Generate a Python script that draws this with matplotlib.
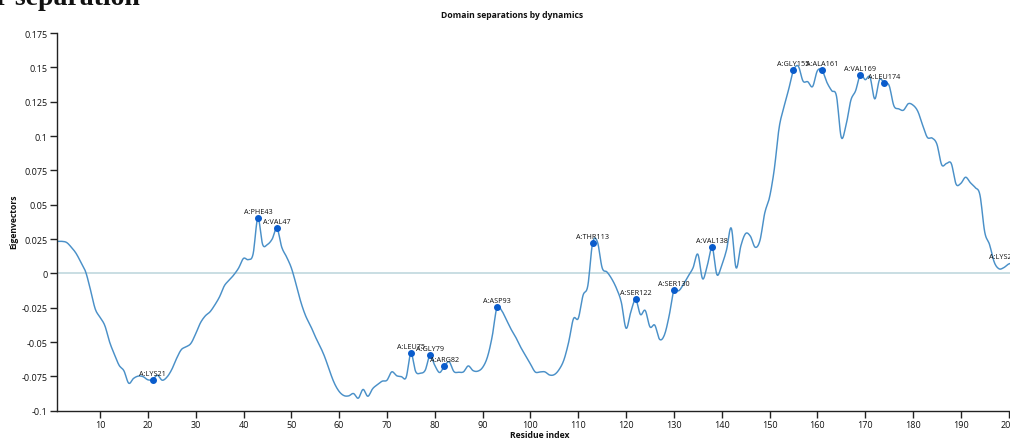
import matplotlib
matplotlib.use("Agg")
import matplotlib.pyplot as plt
import numpy as np

# ---- data ----
residues = list(range(1, 204))
eigvals = [
    0.0233, 0.0233, 0.0225, 0.0190, 0.0145, 0.0080, 0.0010, -0.0120, -0.0260, -0.0320,
    -0.0380, -0.0500, -0.0590, -0.0670, -0.0710, -0.0800, -0.0765, -0.0748, -0.0752, -0.0775,
    -0.0773, -0.0742, -0.0778, -0.0755, -0.0700, -0.0620, -0.0555, -0.0535, -0.0510, -0.0440,
    -0.0360, -0.0310, -0.0280, -0.0230, -0.0170, -0.0090, -0.0050, -0.0010, 0.0040, 0.0109,
    0.0100, 0.0140, 0.0403, 0.0210, 0.0210, 0.0250, 0.0328, 0.0190, 0.0120, 0.0040,
    -0.0080, -0.0210, -0.0310, -0.0380, -0.0460, -0.0530, -0.0610, -0.0710, -0.0800, -0.0860,
    -0.0890, -0.0892, -0.0875, -0.0909, -0.0845, -0.0895, -0.0840, -0.0810, -0.0785, -0.0778,
    -0.0717, -0.0745, -0.0752, -0.0758, -0.0583, -0.0715, -0.0727, -0.0705, -0.0598, -0.0670,
    -0.0722, -0.0676, -0.0644, -0.0715, -0.0720, -0.0717, -0.0674, -0.0708, -0.0712, -0.0685,
    -0.0610, -0.0460, -0.0248, -0.0272, -0.0340, -0.0410, -0.0470, -0.0540, -0.0600, -0.0660,
    -0.0718, -0.0718, -0.0717, -0.0740, -0.0737, -0.0700, -0.0630, -0.0500, -0.0330, -0.0328,
    -0.0160, -0.0090, 0.0221, 0.0230, 0.0040, 0.0010, -0.0040, -0.0110, -0.0210, -0.0400,
    -0.0280, -0.0190, -0.0300, -0.0270, -0.0390, -0.0377, -0.0480, -0.0450, -0.0310, -0.0120,
    -0.0127, -0.0080, -0.0020, 0.0040, 0.0140, -0.0040, 0.0060, 0.0190, -0.0010, 0.0060,
    0.0170, 0.0330, 0.0040, 0.0200, 0.0290, 0.0270, 0.0190, 0.0240, 0.0440, 0.0554,
    0.0760, 0.1060, 0.1210, 0.1340, 0.1477, 0.1509, 0.1400, 0.1395, 0.1360, 0.1475,
    0.1477, 0.1390, 0.1330, 0.1290, 0.0990, 0.1080, 0.1260, 0.1330, 0.1446, 0.1410,
    0.1429, 0.1270, 0.1410, 0.1385, 0.1368, 0.1220, 0.1198, 0.1188, 0.1235, 0.1225,
    0.1180, 0.1080, 0.0990, 0.0985, 0.0940, 0.0790, 0.0800, 0.0800, 0.0650, 0.0655,
    0.0700, 0.0660, 0.0625, 0.0570, 0.0300, 0.0210, 0.0080, 0.0033, 0.0042, 0.0068,
    0.0075, 0.0077, 0.0077,
]
marked_labels = ["A:LYS21", "A:PHE43", "A:VAL47", "A:LEU75", "A:GLY79", "A:ARG82",
                 "A:ASP93", "A:THR113", "A:SER122", "A:SER130", "A:VAL138",
                 "A:GLY155", "A:ALA161", "A:VAL169", "A:LEU174", "A:LYS203"]
marked_residues = [21, 43, 47, 75, 79, 82, 93, 113, 122, 130, 138, 155, 161, 169, 174, 203]
y_ticks = [-0.1, -0.075, -0.05, -0.025, 0, 0.025, 0.05, 0.075, 0.1, 0.125, 0.15, 0.175]
y_ticklabels = ["-0.1", "-0.075", "-0.05", "-0.025", "0", "0.025", "0.05", "0.075",
                "0.1", "0.125", "0.15", "0.175"]
x_ticks = list(range(10, 201, 10))


def smooth_path(xs, ys, n=8):
    """Catmull-Rom rendering of the polyline (curve drawn through every data point)."""
    xs = np.asarray(xs, float)
    ys = np.asarray(ys, float)
    px = np.concatenate([[xs[0]], xs, [xs[-1]]])
    py = np.concatenate([[ys[0]], ys, [ys[-1]]])
    out_x, out_y = [], []
    t = np.linspace(0, 1, n, endpoint=False)
    for i in range(1, len(px) - 2):
        for arr, out in ((px, out_x), (py, out_y)):
            p0, p1, p2, p3 = arr[i - 1], arr[i], arr[i + 1], arr[i + 2]
            out.extend(0.5 * ((2 * p1) + (-p0 + p2) * t + (2 * p0 - 5 * p1 + 4 * p2 - p3) * t ** 2
                              + (-p0 + 3 * p1 - 3 * p2 + p3) * t ** 3))
    out_x.append(xs[-1])
    out_y.append(ys[-1])
    return out_x, out_y


# ---- figure ----
W, H = 1010, 439
fig = plt.figure(figsize=(W / 100, H / 100), dpi=100)
plt.rcParams['font.family'] = ['Open Sans', 'DejaVu Sans']

left_px, right_px, top_px, bot_px = 57, 1023, 34, 411.7
ax = fig.add_axes([left_px / W, 1 - bot_px / H, (right_px - left_px) / W, (bot_px - top_px) / H])

ax.axhline(0, color="#c9dee3", lw=1.4, zorder=1)
sx, sy = smooth_path(residues, eigvals)
ax.plot(sx, sy, color="#4a90c8", lw=1.05, zorder=2, solid_joinstyle="round")

vals_map = dict(zip(residues, eigvals))
mx = [r for r in marked_residues]
my = [vals_map[r] for r in marked_residues]
ax.plot(mx, my, 'o', color="#0a5ccc", ms=4.0, zorder=3, clip_on=True)
for lab, r, v in zip(marked_labels, mx, my):
    ha = 'center'
    dx = 0
    if r == residues[-1]:
        ha = 'right'
        dx = -3
    ax.annotate(lab, (r, v), xytext=(dx, 3), textcoords='offset pixels', ha=ha, va='bottom',
                fontsize=5.2, color="#111111", annotation_clip=False, zorder=4)

ax.set_xlim(1, 203)
ax.set_ylim(-0.1, 0.175)
ax.set_yticks(y_ticks)
ax.set_yticklabels(y_ticklabels)
ax.set_xticks(x_ticks)
ax.set_xticklabels([str(t) for t in x_ticks])
for s in ['top', 'right']:
    ax.spines[s].set_visible(False)
for s in ['left', 'bottom']:
    ax.spines[s].set_linewidth(1.0)
    ax.spines[s].set_color('#222222')
ax.tick_params(axis='both', length=5, width=1.0, color='#222222', labelsize=6.5,
               labelcolor='#111111', pad=2)

fig.text(512 / W, 1 - 16 / H, "Domain separations by dynamics", ha='center', va='center',
         fontsize=6.2, fontweight='bold', color='#111111')
fig.text(14 / W, 1 - 222 / H, "Eigenvectors", ha='center', va='center', rotation=90,
         fontsize=6.2, fontweight='bold', color='#111111')
fig.text(540 / W, 1 - 431 / H, "Residue index", ha='center', va='top',
         fontsize=6.2, fontweight='bold', color='#111111')
fig.text(-4 / W, 1 - 5 / H, "r separation", ha='left', va='baseline',
         fontsize=20, fontweight='bold', family=['Liberation Serif', 'DejaVu Serif'],
         color='#111111')

fig.savefig("out.png", dpi=100)
